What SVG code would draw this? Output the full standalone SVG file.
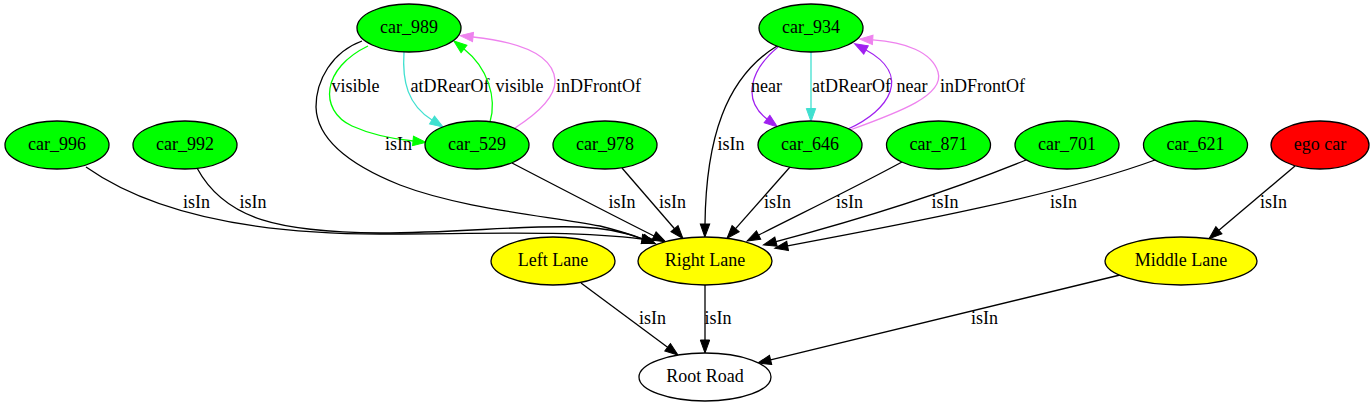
<svg xmlns="http://www.w3.org/2000/svg" width="1371" height="407" viewBox="0 0 1371 407" font-family="'Liberation Serif', 'DejaVu Serif', 'Times New Roman', serif">
<style>
text{font-family:"Liberation Serif","DejaVu Serif","Times New Roman",serif;font-size:18px;fill:#000;text-anchor:middle}
.n ellipse{stroke:#000;stroke-width:1.3}
.g{fill:#00ff00}.y{fill:#ffff00}.r{fill:#ff0000}.w{fill:#ffffff}
.e path{fill:none;stroke-width:1.3}
.k{stroke:#000;marker-end:url(#mk)}
.gr{stroke:#00ff00;marker-end:url(#mg)}
.tq{stroke:#40e0d0;marker-end:url(#mt)}
.vi{stroke:#ee82ee;marker-end:url(#mv)}
.pu{stroke:#a020f0;marker-end:url(#mp)}
</style>
<defs>
<marker id="mk" markerUnits="userSpaceOnUse" orient="auto" refX="0" refY="4.7" markerWidth="14" markerHeight="10" overflow="visible"><path d="M0,0L13,4.7L0,9.4z" fill="#000" stroke="#000" stroke-width="1"/></marker>
<marker id="mg" markerUnits="userSpaceOnUse" orient="auto" refX="0" refY="4.7" markerWidth="14" markerHeight="10" overflow="visible"><path d="M0,0L13,4.7L0,9.4z" fill="#00ff00" stroke="#00ff00" stroke-width="1"/></marker>
<marker id="mt" markerUnits="userSpaceOnUse" orient="auto" refX="0" refY="4.7" markerWidth="14" markerHeight="10" overflow="visible"><path d="M0,0L13,4.7L0,9.4z" fill="#40e0d0" stroke="#40e0d0" stroke-width="1"/></marker>
<marker id="mv" markerUnits="userSpaceOnUse" orient="auto" refX="0" refY="4.7" markerWidth="14" markerHeight="10" overflow="visible"><path d="M0,0L13,4.7L0,9.4z" fill="#ee82ee" stroke="#ee82ee" stroke-width="1"/></marker>
<marker id="mp" markerUnits="userSpaceOnUse" orient="auto" refX="0" refY="4.7" markerWidth="14" markerHeight="10" overflow="visible"><path d="M0,0L13,4.7L0,9.4z" fill="#a020f0" stroke="#a020f0" stroke-width="1"/></marker>
</defs>
<rect width="1371" height="407" fill="#fff"/>
<g id="edges" class="e">
<path class="gr" d="M368,46C322,68 318,110 352,126C372,135 393,139 413,141"/>
<text x="355.5" y="92">visible</text>
<path class="tq" d="M404,52C402,82 408,105 432,120"/>
<text x="450" y="92">atDRearOf</text>
<path class="gr" d="M490,122C497,98 488,68 464,49"/>
<text x="519.5" y="92">visible</text>
<path class="vi" d="M515,128C540,112 556,96 555,80C553,55 520,42 473,37"/>
<text x="598.5" y="92">inDFrontOf</text>
<path class="k" d="M362,41C332,52 316,80 316,107C317,140 350,165 400,185C460,208 540,215 600,226C620,231 632,235 643,239"/>
<text x="398.5" y="150">isIn</text>
<path class="pu" d="M778,47C750,70 742,100 767,119"/>
<text x="766.5" y="92">near</text>
<path class="tq" d="M811,52L811,108.5"/>
<text x="851.5" y="92">atDRearOf</text>
<path class="pu" d="M848,129C890,110 912,75 866,50"/>
<text x="912" y="92">near</text>
<path class="vi" d="M850,130C900,112 945,95 938,72C932,52 905,42 872.7,39.9"/>
<text x="982.5" y="92">inDFrontOf</text>
<path class="k" d="M777,46C725,78 706,140 705,224"/>
<text x="731" y="150">isIn</text>
<path class="k" d="M86,167C150,212 250,234 380,234C480,234 570,230 642,239"/>
<text x="196.5" y="208">isIn</text>
<path class="k" d="M197,168C225,220 280,232 380,233C460,233 520,225 580,227C610,228 630,234 643,239"/>
<text x="253" y="208">isIn</text>
<path class="k" d="M512,163C560,188 610,214 654,236"/>
<text x="622" y="208">isIn</text>
<path class="k" d="M622,168L674.5,228.7"/>
<text x="672.5" y="208">isIn</text>
<path class="k" d="M790,167L735.6,228.6"/>
<text x="777.5" y="208">isIn</text>
<path class="k" d="M902,162C850,190 800,214 758.6,235.1"/>
<text x="849.5" y="208">isIn</text>
<path class="k" d="M1026,160C940,195 850,222 776,241.6"/>
<text x="945" y="208">isIn</text>
<path class="k" d="M1155,160C1060,195 900,225 787.6,245.9"/>
<text x="1063.5" y="208">isIn</text>
<path class="k" d="M1295,166L1218.9,230.3"/>
<text x="1273.5" y="208">isIn</text>
<path class="k" d="M581,283L667.6,347.3"/>
<text x="652.5" y="324">isIn</text>
<path class="k" d="M705,285L705,340"/>
<text x="718" y="324">isIn</text>
<path class="k" d="M1120,275L770.6,359.9"/>
<text x="984.5" y="324">isIn</text>
</g>
<g id="car_989" class="n"><ellipse class="g" cx="409" cy="28" rx="52" ry="24"/><text x="409" y="33">car_989</text></g>
<g id="car_934" class="n"><ellipse class="g" cx="811" cy="28" rx="52" ry="24"/><text x="811" y="33">car_934</text></g>
<g id="car_996" class="n"><ellipse class="g" cx="57" cy="145" rx="52" ry="24"/><text x="57" y="150">car_996</text></g>
<g id="car_992" class="n"><ellipse class="g" cx="185" cy="145" rx="52" ry="24"/><text x="185" y="150">car_992</text></g>
<g id="car_529" class="n"><ellipse class="g" cx="477" cy="145" rx="52" ry="24"/><text x="477" y="150">car_529</text></g>
<g id="car_978" class="n"><ellipse class="g" cx="605" cy="145" rx="52" ry="24"/><text x="605" y="150">car_978</text></g>
<g id="car_646" class="n"><ellipse class="g" cx="810" cy="145" rx="52" ry="24"/><text x="810" y="150">car_646</text></g>
<g id="car_871" class="n"><ellipse class="g" cx="938.5" cy="145" rx="52" ry="24"/><text x="938.5" y="150">car_871</text></g>
<g id="car_701" class="n"><ellipse class="g" cx="1067" cy="145" rx="52" ry="24"/><text x="1067" y="150">car_701</text></g>
<g id="car_621" class="n"><ellipse class="g" cx="1195.5" cy="145" rx="52" ry="24"/><text x="1195.5" y="150">car_621</text></g>
<g id="ego_car" class="n"><ellipse class="r" cx="1320" cy="145" rx="49" ry="24"/><text x="1320" y="150">ego car</text></g>
<g id="left_lane" class="n"><ellipse class="y" cx="553" cy="261" rx="62" ry="24"/><text x="553" y="266">Left Lane</text></g>
<g id="right_lane" class="n"><ellipse class="y" cx="705" cy="261" rx="67" ry="24"/><text x="705" y="266">Right Lane</text></g>
<g id="middle_lane" class="n"><ellipse class="y" cx="1181" cy="261" rx="76" ry="24"/><text x="1181" y="266">Middle Lane</text></g>
<g id="root_road" class="n"><ellipse class="w" cx="705" cy="377" rx="66" ry="24"/><text x="705" y="382">Root Road</text></g>
</svg>
